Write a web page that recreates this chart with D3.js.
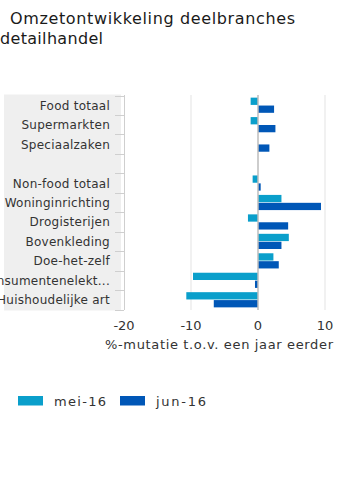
<!DOCTYPE html>
<html><head><meta charset="utf-8">
<script src="https://cdn.jsdelivr.net/npm/d3@7"></script>
<style>
html,body{margin:0;padding:0;background:#fff;}
svg{display:block;font-family:"DejaVu Sans",Verdana,sans-serif;}
</style></head>
<body>
<svg id="c" width="345" height="500"></svg>
<script>
const categories = ["Food totaal","Supermarkten","Speciaalzaken","","Non-food totaal","Woninginrichting","Drogisterijen","Bovenkleding","Doe-het-zelf","Consumentenelektronica","Huishoudelijke art"];
const mei16 = [-1.1,-1.1,null,null,-0.8,3.5,-1.5,4.6,2.3,-9.7,-10.7];
const jun16 = [2.4,2.6,1.7,null,0.4,9.4,4.5,3.5,3.1,-0.45,-6.6];
const seriesNames = ["mei-16","jun-16"];
const seriesColors = ["#0a9fcb","#0057b7"];
const xTicks = [-20,-10,0,10];

const svg = d3.select("#c");
const x = d3.scaleLinear().domain([-20,10]).range([124,325]);
const y0 = d3.scaleBand().domain(categories).range([95.5,309.5]).paddingInner(0.22).paddingOuter(0.11);
const y1 = d3.scaleBand().domain(seriesNames).range([0,y0.bandwidth()]).paddingInner(0.08);
const plotTop = 95, plotBottom = 310;

// title
const title = svg.append("text").attr("fill","#1a1a1a").attr("font-size",16).attr("lengthAdjust","spacing");
title.append("tspan").attr("x",10).attr("y",24).attr("textLength",285).attr("lengthAdjust","spacing").text("Omzetontwikkeling deelbranches");
title.append("tspan").attr("x",0).attr("y",44).attr("textLength",103).attr("lengthAdjust","spacing").text("detailhandel");

// label background
svg.append("rect").attr("x",4).attr("y",94.5).attr("width",117).attr("height",216).attr("fill","#efefef");

// gridlines
svg.selectAll(".grid").data(xTicks.filter(d=>d!==0 && d!==-20)).join("line")
  .attr("x1",d=>x(d)).attr("x2",d=>x(d)).attr("y1",plotTop).attr("y2",plotBottom)
  .attr("stroke","#e3e3e3").attr("stroke-width",1);

// y axis line and ticks
svg.append("line").attr("x1",124.5).attr("x2",124.5).attr("y1",plotTop).attr("y2",plotBottom).attr("stroke","#cfcfcf");
const bounds = categories.map(c=>y0(c)-y0.step()*y0.paddingInner()/2).concat([y0(categories[categories.length-1])+y0.bandwidth()+y0.step()*y0.paddingInner()/2]);
svg.selectAll(".tk").data(bounds).join("line")
  .attr("x1",115).attr("x2",124).attr("y1",d=>Math.round(d)+0.5).attr("y2",d=>Math.round(d)+0.5)
  .attr("stroke","#cfcfcf");

// category labels
const labelText = c => c.length>18 ? c.slice(0,16)+"..." : c;
svg.selectAll(".lbl").data(categories).join("text")
  .attr("x",110).attr("y",c=>y0(c)+y0.bandwidth()/2+4.5)
  .attr("text-anchor","end").attr("font-size",12).attr("letter-spacing",0.25).attr("fill","#333")
  .text(labelText);

// bars
const series = [mei16, jun16];
series.forEach((vals,si)=>{
  svg.append("g").selectAll("rect").data(categories.map((c,i)=>({c,v:vals[i]})).filter(d=>d.v!==null)).join("rect")
    .attr("x",d=>x(Math.min(0,d.v))).attr("width",d=>Math.abs(x(d.v)-x(0)))
    .attr("y",d=>y0(d.c)+y1(seriesNames[si])).attr("height",y1.bandwidth())
    .attr("fill",seriesColors[si]);
});

// zero line
svg.append("line").attr("x1",x(0)).attr("x2",x(0)).attr("y1",plotTop).attr("y2",plotBottom).attr("stroke","#bdbdbd").attr("stroke-width",1.5);

// x axis ticks labels
svg.selectAll(".xt").data(xTicks).join("text")
  .attr("x",d=>x(d)).attr("y",330).attr("text-anchor","middle").attr("font-size",13).attr("fill","#333")
  .text(d=>d);
svg.append("text").attr("x",105).attr("y",349).attr("font-size",13).attr("fill","#333")
  .attr("textLength",228).attr("lengthAdjust","spacing")
  .text("%-mutatie t.o.v. een jaar eerder");

// legend
const leg = svg.append("g");
const legX = [18,120];
const legLen = [52,50];
seriesNames.forEach((n,i)=>{
  leg.append("rect").attr("x",legX[i]).attr("y",396).attr("width",25).attr("height",9.5).attr("fill",seriesColors[i]);
  leg.append("text").attr("x",legX[i]+36).attr("y",405.5).attr("font-size",13).attr("fill","#333")
    .attr("textLength",legLen[i]).attr("lengthAdjust","spacing").text(n);
});
</script>
</body></html>
